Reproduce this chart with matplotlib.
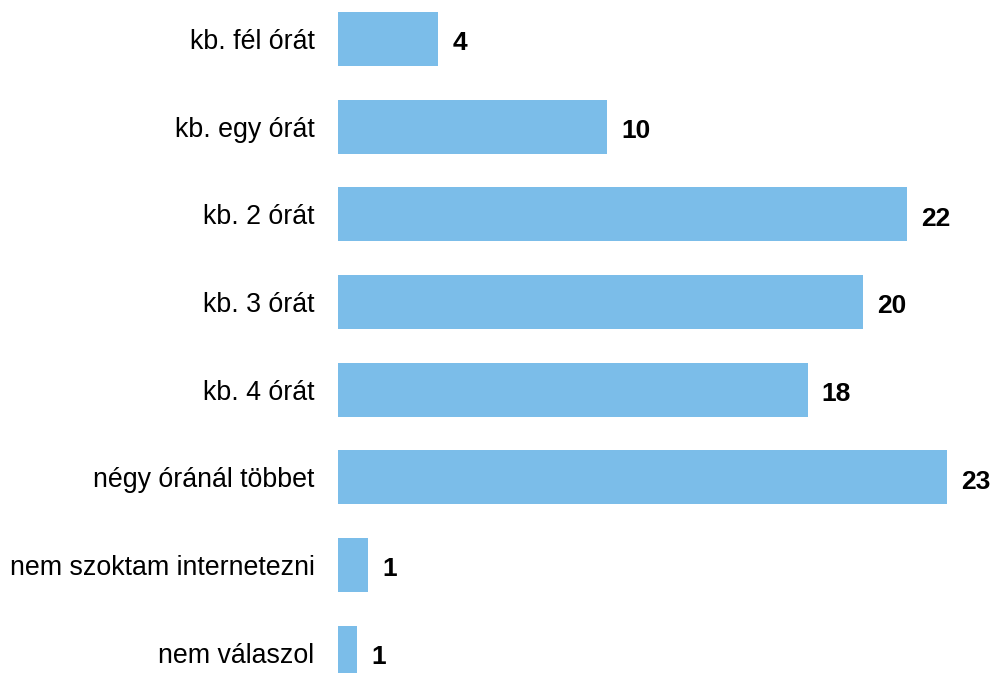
import matplotlib
matplotlib.use('Agg')
import matplotlib.pyplot as plt

# answer categories (top to bottom) and shares in percent
categories = ['kb. fél órát', 'kb. egy órát', 'kb. 2 órát', 'kb. 3 órát',
              'kb. 4 órát', 'négy óránál többet', 'nem szoktam internetezni',
              'nem válaszol']
values = [3.8, 10.2, 21.55, 19.9, 17.8, 23.07, 1.14, 0.72]
labels = [str(round(v)) for v in values]

plt.rcParams['font.family'] = ['Liberation Sans', 'DejaVu Sans']

fig = plt.figure(figsize=(9.92, 6.73), dpi=100)
ax = fig.add_axes([338 / 992, 0, 1 - 338 / 992, 1])

pos = list(range(len(categories)))
bars = ax.barh(pos, values, height=0.616, color='#7bbde9')

for b, lab in zip(bars, labels):
    ax.annotate(lab, (b.get_width(), b.get_y() + b.get_height() / 2),
                xytext=(10, -3), textcoords='offset points',
                ha='left', va='center', fontsize=19, fontweight='bold')

ax.set_yticks(pos)
ax.set_yticklabels(categories, fontsize=19.3)
ax.tick_params(axis='y', length=0, pad=17)
ax.set_xticks([])
ax.set_xlim(0, 654 / 26.4)
ax.set_ylim(7.23, -0.445)
for s in ax.spines.values():
    s.set_visible(False)

fig.savefig('out.png', dpi=100)
